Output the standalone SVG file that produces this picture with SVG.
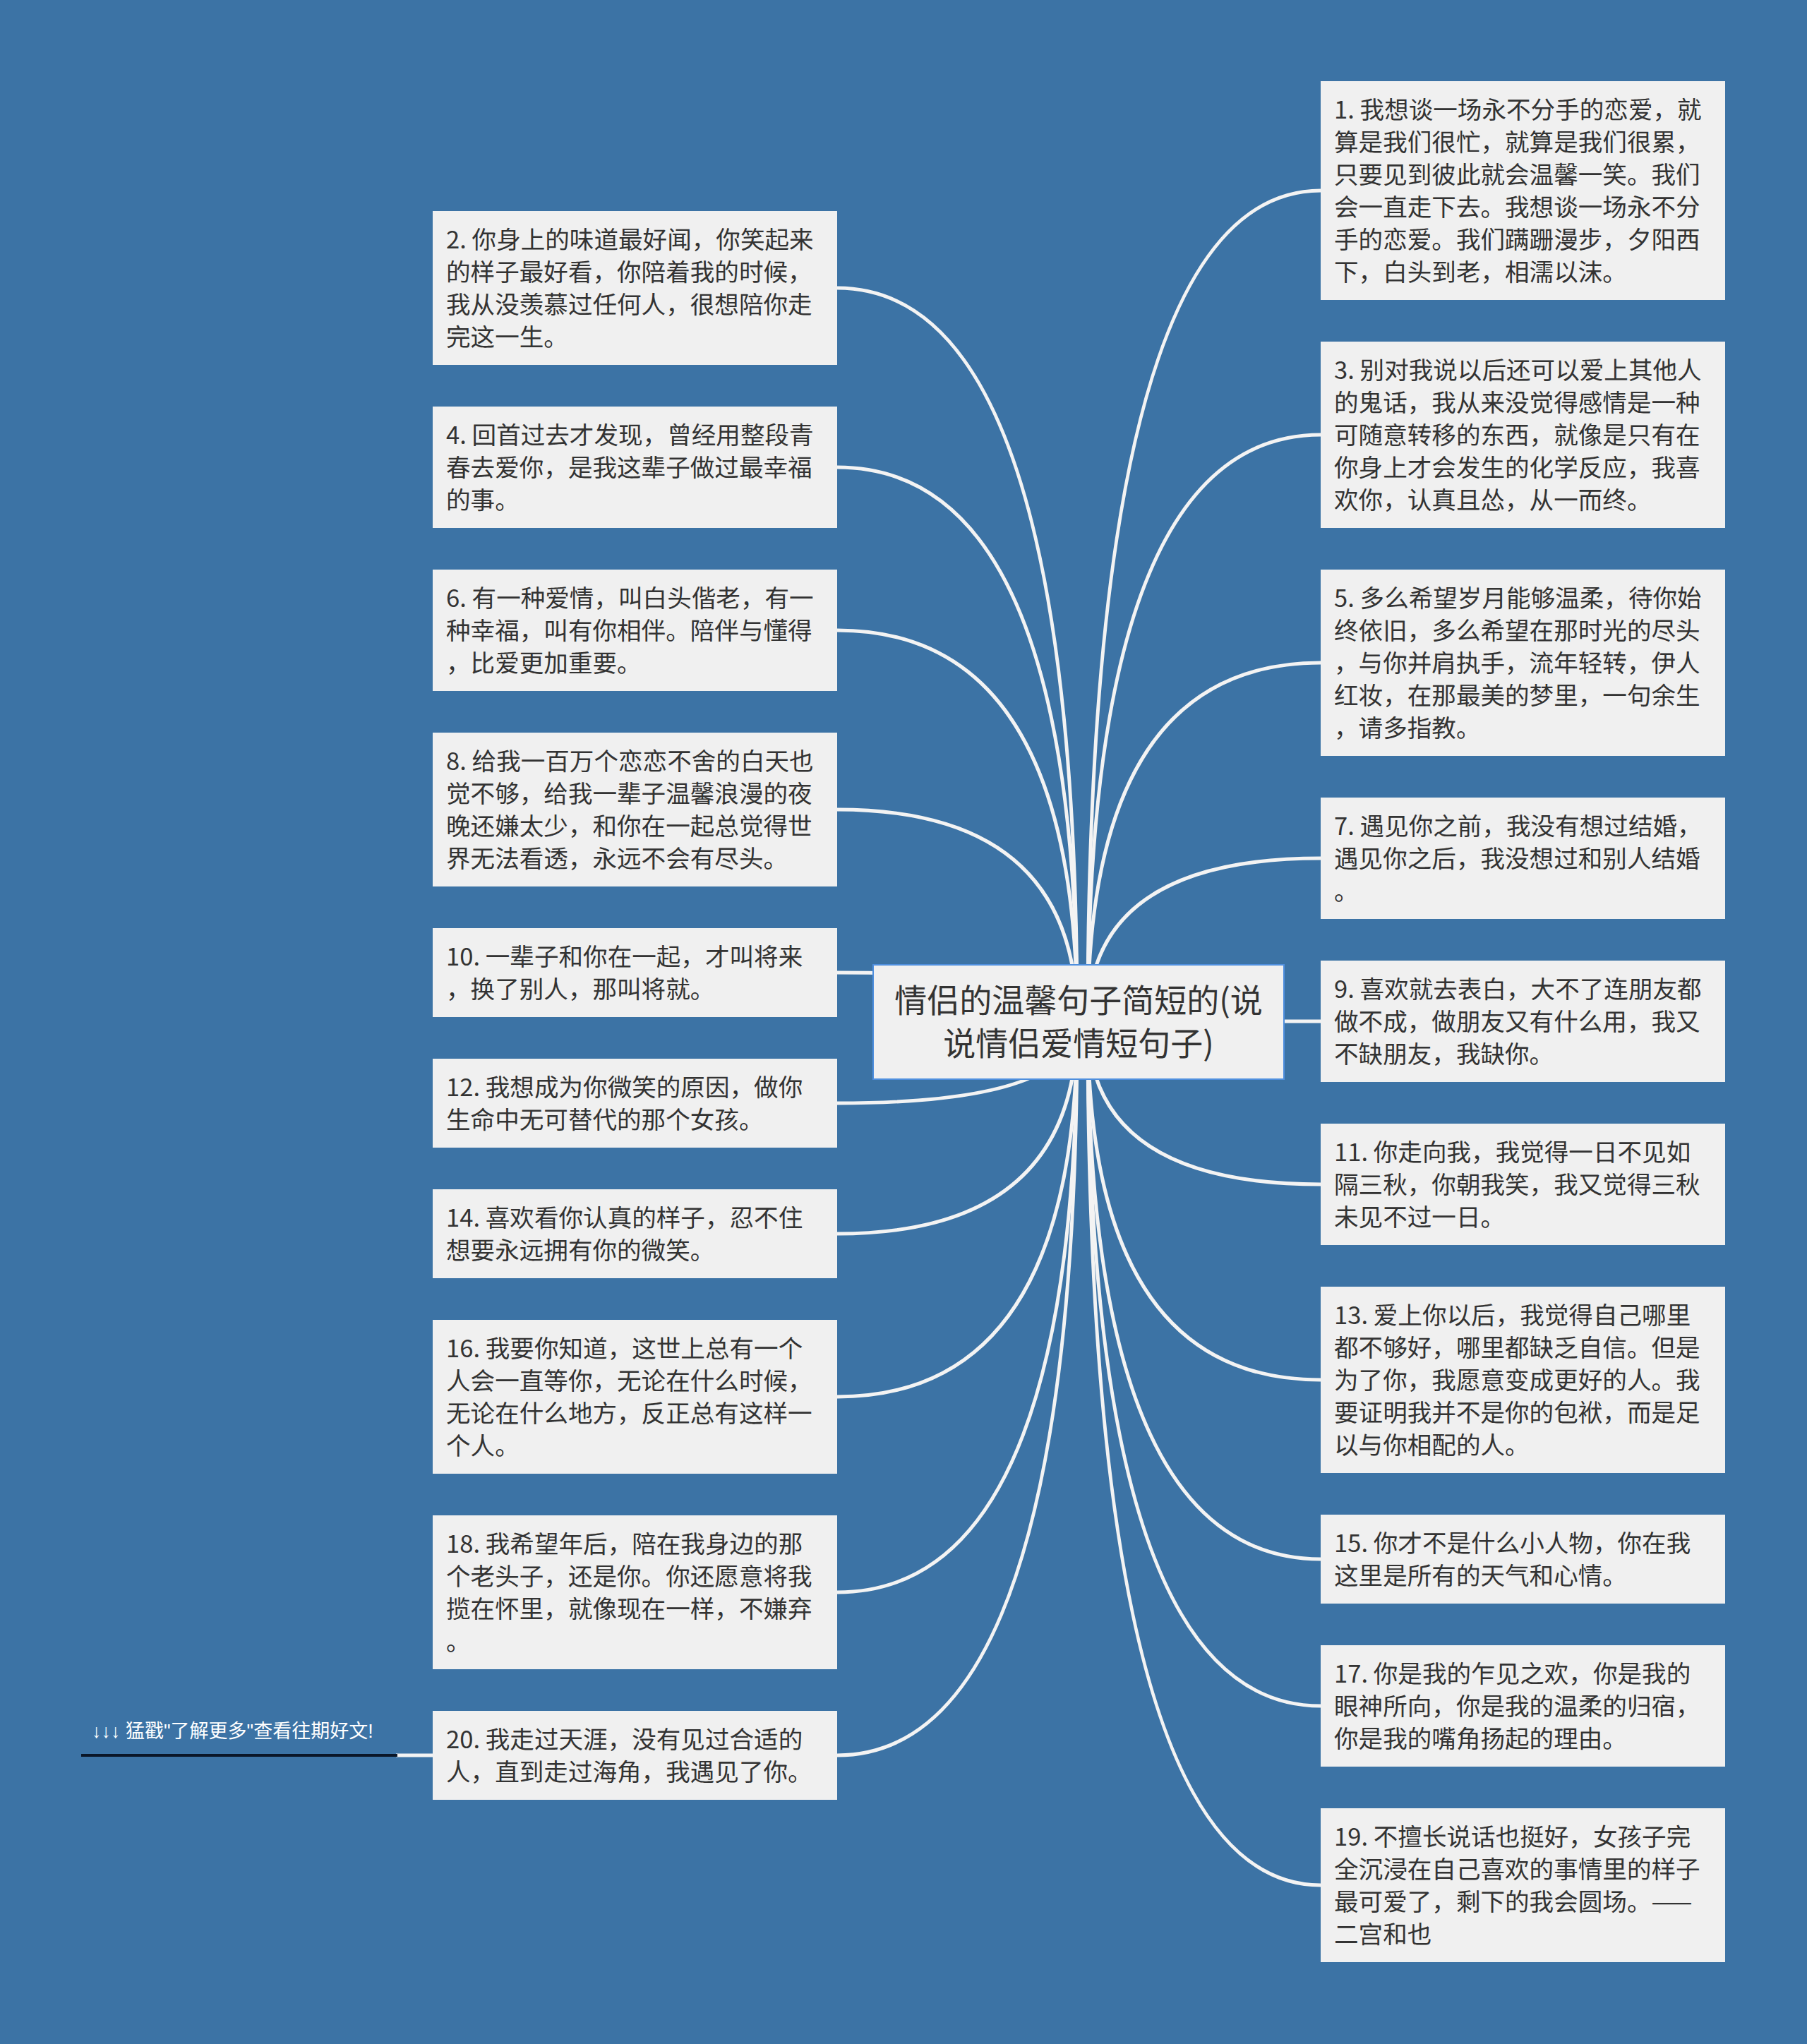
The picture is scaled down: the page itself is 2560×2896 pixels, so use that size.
<svg xmlns="http://www.w3.org/2000/svg" width="2560" height="2896" viewBox="0 0 2560 2896">
<style>
.bg{fill:#3c73a5}
.box{fill:#f0f0f0}
.center{fill:#f0f0f0;stroke:#4f8fde;stroke-width:2}
.t{font-family:"Noto Sans CJK SC","Noto Sans",sans-serif;font-size:34.6px;fill:#333333}
.title{font-family:"Noto Sans CJK SC","Noto Sans",sans-serif;font-size:46px;fill:#333333;text-anchor:middle}
.link{font-family:"Liberation Sans","Noto Sans CJK SC",sans-serif;font-size:27px;fill:#ffffff}
.c{fill:none;stroke:#f3f3f3;stroke-width:5}
</style>
<rect class="bg" x="0" y="0" width="2560" height="2896"/>
<g id="connectors">
<path class="c" d="M1186 408 Q1526 408 1526 1448"/>
<path class="c" d="M1186 662 Q1526 662 1526 1448"/>
<path class="c" d="M1186 893 Q1526 893 1526 1448"/>
<path class="c" d="M1186 1147 Q1526 1147 1526 1448"/>
<path class="c" d="M1186 1378 Q1526 1378 1526 1448"/>
<path class="c" d="M1186 1563 Q1526 1563 1526 1448"/>
<path class="c" d="M1186 1748 Q1526 1748 1526 1448"/>
<path class="c" d="M1186 1979 Q1526 1979 1526 1448"/>
<path class="c" d="M1186 2256 Q1526 2256 1526 1448"/>
<path class="c" d="M1186 2487 Q1526 2487 1526 1448"/>
<path class="c" d="M1871 270 Q1541 270 1541 1448"/>
<path class="c" d="M1871 616 Q1541 616 1541 1448"/>
<path class="c" d="M1871 939 Q1541 939 1541 1448"/>
<path class="c" d="M1871 1216 Q1541 1216 1541 1448"/>
<path class="c" d="M1871 1447 L1541 1447"/>
<path class="c" d="M1871 1678 Q1541 1678 1541 1448"/>
<path class="c" d="M1871 1955 Q1541 1955 1541 1448"/>
<path class="c" d="M1871 2209 Q1541 2209 1541 1448"/>
<path class="c" d="M1871 2417 Q1541 2417 1541 1448"/>
<path class="c" d="M1871 2671 Q1541 2671 1541 1448"/>
<path class="c" d="M561 2487 L613 2487"/>
</g>
<g id="center">
<rect class="center" x="1237" y="1367" width="582" height="162"/>
<text class="title" x="1528" y="1434">情侣的温馨句子简短的(说</text>
<text class="title" x="1528" y="1495">说情侣爱情短句子)</text>
</g>
<g id="link">
<text class="link" x="130" y="2462">↓↓↓ 猛戳"了解更多"查看往期好文!</text>
<line x1="115" y1="2487" x2="563" y2="2487" stroke="#0a1628" stroke-width="4"/>
</g>
<g id="n2"><rect class="box" x="613" y="299" width="573" height="218"/><text class="t" x="632" y="352"><tspan x="632">2. 你身上的味道最好闻，你笑起来</tspan><tspan x="632" dy="46">的样子最好看，你陪着我的时候，</tspan><tspan x="632" dy="46">我从没羡慕过任何人，很想陪你走</tspan><tspan x="632" dy="46">完这一生。</tspan></text></g>
<g id="n4"><rect class="box" x="613" y="576" width="573" height="172"/><text class="t" x="632" y="629"><tspan x="632">4. 回首过去才发现，曾经用整段青</tspan><tspan x="632" dy="46">春去爱你，是我这辈子做过最幸福</tspan><tspan x="632" dy="46">的事。</tspan></text></g>
<g id="n6"><rect class="box" x="613" y="807" width="573" height="172"/><text class="t" x="632" y="860"><tspan x="632">6. 有一种爱情，叫白头偕老，有一</tspan><tspan x="632" dy="46">种幸福，叫有你相伴。陪伴与懂得</tspan><tspan x="632" dy="46">，比爱更加重要。</tspan></text></g>
<g id="n8"><rect class="box" x="613" y="1038" width="573" height="218"/><text class="t" x="632" y="1091"><tspan x="632">8. 给我一百万个恋恋不舍的白天也</tspan><tspan x="632" dy="46">觉不够，给我一辈子温馨浪漫的夜</tspan><tspan x="632" dy="46">晚还嫌太少，和你在一起总觉得世</tspan><tspan x="632" dy="46">界无法看透，永远不会有尽头。</tspan></text></g>
<g id="n10"><rect class="box" x="613" y="1315" width="573" height="126"/><text class="t" x="632" y="1368"><tspan x="632">10. 一辈子和你在一起，才叫将来</tspan><tspan x="632" dy="46">，换了别人，那叫将就。</tspan></text></g>
<g id="n12"><rect class="box" x="613" y="1500" width="573" height="126"/><text class="t" x="632" y="1553"><tspan x="632">12. 我想成为你微笑的原因，做你</tspan><tspan x="632" dy="46">生命中无可替代的那个女孩。</tspan></text></g>
<g id="n14"><rect class="box" x="613" y="1685" width="573" height="126"/><text class="t" x="632" y="1738"><tspan x="632">14. 喜欢看你认真的样子，忍不住</tspan><tspan x="632" dy="46">想要永远拥有你的微笑。</tspan></text></g>
<g id="n16"><rect class="box" x="613" y="1870" width="573" height="218"/><text class="t" x="632" y="1923"><tspan x="632">16. 我要你知道，这世上总有一个</tspan><tspan x="632" dy="46">人会一直等你，无论在什么时候，</tspan><tspan x="632" dy="46">无论在什么地方，反正总有这样一</tspan><tspan x="632" dy="46">个人。</tspan></text></g>
<g id="n18"><rect class="box" x="613" y="2147" width="573" height="218"/><text class="t" x="632" y="2200"><tspan x="632">18. 我希望年后，陪在我身边的那</tspan><tspan x="632" dy="46">个老头子，还是你。你还愿意将我</tspan><tspan x="632" dy="46">揽在怀里，就像现在一样，不嫌弃</tspan><tspan x="632" dy="46">。</tspan></text></g>
<g id="n20"><rect class="box" x="613" y="2424" width="573" height="126"/><text class="t" x="632" y="2477"><tspan x="632">20. 我走过天涯，没有见过合适的</tspan><tspan x="632" dy="46">人，直到走过海角，我遇见了你。</tspan></text></g>
<g id="n1"><rect class="box" x="1871" y="115" width="573" height="310"/><text class="t" x="1890" y="168"><tspan x="1890">1. 我想谈一场永不分手的恋爱，就</tspan><tspan x="1890" dy="46">算是我们很忙，就算是我们很累，</tspan><tspan x="1890" dy="46">只要见到彼此就会温馨一笑。我们</tspan><tspan x="1890" dy="46">会一直走下去。我想谈一场永不分</tspan><tspan x="1890" dy="46">手的恋爱。我们蹒跚漫步，夕阳西</tspan><tspan x="1890" dy="46">下，白头到老，相濡以沫。</tspan></text></g>
<g id="n3"><rect class="box" x="1871" y="484" width="573" height="264"/><text class="t" x="1890" y="537"><tspan x="1890">3. 别对我说以后还可以爱上其他人</tspan><tspan x="1890" dy="46">的鬼话，我从来没觉得感情是一种</tspan><tspan x="1890" dy="46">可随意转移的东西，就像是只有在</tspan><tspan x="1890" dy="46">你身上才会发生的化学反应，我喜</tspan><tspan x="1890" dy="46">欢你，认真且怂，从一而终。</tspan></text></g>
<g id="n5"><rect class="box" x="1871" y="807" width="573" height="264"/><text class="t" x="1890" y="860"><tspan x="1890">5. 多么希望岁月能够温柔，待你始</tspan><tspan x="1890" dy="46">终依旧，多么希望在那时光的尽头</tspan><tspan x="1890" dy="46">，与你并肩执手，流年轻转，伊人</tspan><tspan x="1890" dy="46">红妆，在那最美的梦里，一句余生</tspan><tspan x="1890" dy="46">，请多指教。</tspan></text></g>
<g id="n7"><rect class="box" x="1871" y="1130" width="573" height="172"/><text class="t" x="1890" y="1183"><tspan x="1890">7. 遇见你之前，我没有想过结婚，</tspan><tspan x="1890" dy="46">遇见你之后，我没想过和别人结婚</tspan><tspan x="1890" dy="46">。</tspan></text></g>
<g id="n9"><rect class="box" x="1871" y="1361" width="573" height="172"/><text class="t" x="1890" y="1414"><tspan x="1890">9. 喜欢就去表白，大不了连朋友都</tspan><tspan x="1890" dy="46">做不成，做朋友又有什么用，我又</tspan><tspan x="1890" dy="46">不缺朋友，我缺你。</tspan></text></g>
<g id="n11"><rect class="box" x="1871" y="1592" width="573" height="172"/><text class="t" x="1890" y="1645"><tspan x="1890">11. 你走向我，我觉得一日不见如</tspan><tspan x="1890" dy="46">隔三秋，你朝我笑，我又觉得三秋</tspan><tspan x="1890" dy="46">未见不过一日。</tspan></text></g>
<g id="n13"><rect class="box" x="1871" y="1823" width="573" height="264"/><text class="t" x="1890" y="1876"><tspan x="1890">13. 爱上你以后，我觉得自己哪里</tspan><tspan x="1890" dy="46">都不够好，哪里都缺乏自信。但是</tspan><tspan x="1890" dy="46">为了你，我愿意变成更好的人。我</tspan><tspan x="1890" dy="46">要证明我并不是你的包袱，而是足</tspan><tspan x="1890" dy="46">以与你相配的人。</tspan></text></g>
<g id="n15"><rect class="box" x="1871" y="2146" width="573" height="126"/><text class="t" x="1890" y="2199"><tspan x="1890">15. 你才不是什么小人物，你在我</tspan><tspan x="1890" dy="46">这里是所有的天气和心情。</tspan></text></g>
<g id="n17"><rect class="box" x="1871" y="2331" width="573" height="172"/><text class="t" x="1890" y="2384"><tspan x="1890">17. 你是我的乍见之欢，你是我的</tspan><tspan x="1890" dy="46">眼神所向，你是我的温柔的归宿，</tspan><tspan x="1890" dy="46">你是我的嘴角扬起的理由。</tspan></text></g>
<g id="n19"><rect class="box" x="1871" y="2562" width="573" height="218"/><text class="t" x="1890" y="2615"><tspan x="1890">19. 不擅长说话也挺好，女孩子完</tspan><tspan x="1890" dy="46">全沉浸在自己喜欢的事情里的样子</tspan><tspan x="1890" dy="46">最可爱了，剩下的我会圆场。——</tspan><tspan x="1890" dy="46">二宫和也</tspan></text></g>
</svg>
